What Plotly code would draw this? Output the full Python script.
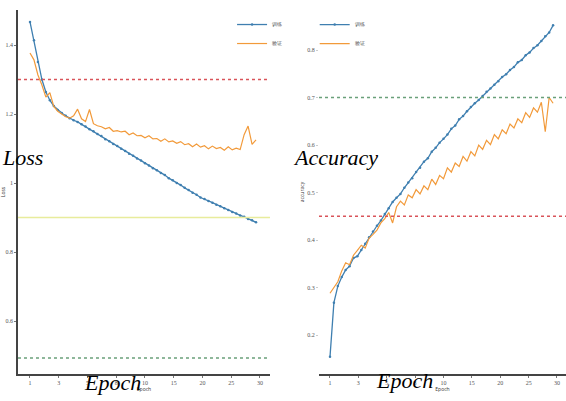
import plotly.graph_objects as go
from plotly.subplots import make_subplots

epochs = [1.0, 1.5, 2.0, 2.5, 3.0, 3.5, 4.0, 4.5, 5.0, 5.5, 6.0, 6.5, 7.0, 7.5, 8.0, 8.5,
          9.0, 9.5, 10.0, 10.5, 11.0, 11.5, 12.0, 12.5, 13.0, 13.5, 14.0, 14.5, 15.0, 15.5,
          16.0, 16.5, 17.0, 17.5, 18.0, 18.5, 19.0, 19.5, 20.0, 20.5, 21.0, 21.5, 22.0, 22.5,
          23.0, 23.5, 24.0, 24.5, 25.0, 25.5, 26.0, 26.5, 27.0, 27.5, 28.0, 28.5, 29.0, 29.5]

train_loss = [1.467, 1.414, 1.351, 1.300, 1.264, 1.240, 1.223, 1.212, 1.203, 1.195, 1.188, 1.182, 1.177,
              1.170, 1.164, 1.156, 1.150, 1.142, 1.136, 1.127, 1.121, 1.113, 1.107, 1.099, 1.093,
              1.085, 1.079, 1.071, 1.065, 1.057, 1.051, 1.043, 1.037, 1.029, 1.023, 1.014, 1.008,
              1.000, 0.994, 0.986, 0.980, 0.972, 0.966, 0.958, 0.954, 0.948, 0.943, 0.937, 0.933,
              0.927, 0.922, 0.916, 0.912, 0.906, 0.902, 0.896, 0.892, 0.886]
val_loss = [1.377, 1.357, 1.313, 1.284, 1.249, 1.262, 1.222, 1.208, 1.200, 1.192, 1.188, 1.195, 1.214,
            1.186, 1.178, 1.213, 1.172, 1.166, 1.163, 1.157, 1.161, 1.150, 1.152, 1.148, 1.150,
            1.140, 1.145, 1.137, 1.138, 1.131, 1.137, 1.128, 1.129, 1.121, 1.128, 1.119, 1.122,
            1.115, 1.120, 1.111, 1.114, 1.105, 1.113, 1.104, 1.108, 1.099, 1.107, 1.100, 1.103,
            1.095, 1.105, 1.096, 1.101, 1.097, 1.140, 1.165, 1.112, 1.125]

train_acc = [0.154, 0.268, 0.303, 0.322, 0.337, 0.345, 0.362, 0.366, 0.379, 0.392, 0.406, 0.418,
             0.430, 0.441, 0.455, 0.467, 0.480, 0.489, 0.497, 0.510, 0.521, 0.530, 0.543, 0.552,
             0.565, 0.572, 0.586, 0.594, 0.605, 0.613, 0.622, 0.634, 0.641, 0.654, 0.661, 0.671,
             0.680, 0.688, 0.695, 0.703, 0.712, 0.719, 0.727, 0.734, 0.743, 0.749, 0.758, 0.764,
             0.774, 0.779, 0.789, 0.795, 0.804, 0.810, 0.819, 0.829, 0.837, 0.852]
val_acc = [0.288, 0.300, 0.312, 0.335, 0.352, 0.348, 0.368, 0.378, 0.389, 0.383, 0.404, 0.412,
           0.421, 0.436, 0.445, 0.458, 0.436, 0.470, 0.482, 0.474, 0.495, 0.489, 0.506, 0.497,
           0.514, 0.506, 0.528, 0.517, 0.536, 0.529, 0.552, 0.543, 0.562, 0.555, 0.576, 0.566,
           0.586, 0.577, 0.600, 0.591, 0.610, 0.601, 0.622, 0.613, 0.632, 0.624, 0.644, 0.636,
           0.655, 0.647, 0.668, 0.658, 0.678, 0.669, 0.690, 0.628, 0.700, 0.688]

series_names = ["训练", "验证"]
x_tick_pos = [1, 4.625, 8.25, 11.875, 15.5, 19.125, 22.75, 26.375, 30]
x_tick_text = ["1", "3", "5", "8", "10", "15", "20", "25", "30"]
loss_ticks = [0.6, 0.8, 1.0, 1.2, 1.4]
acc_ticks = [0.2, 0.3, 0.4, 0.5, 0.6, 0.7, 0.8]
loss_refs = [(1.30, "#d9545a", "dot"), (0.90, "#e8ec9c", "solid"), (0.493, "#6aa07a", "dot")]
acc_refs = [(0.70, "#6aa07a", "dot"), (0.45, "#d9545a", "dot")]

BLUE = "#3f7fb0"
ORANGE = "#f29a3a"

fig = make_subplots(rows=1, cols=2)

fig.add_trace(go.Scatter(x=epochs, y=train_loss, mode="lines+markers", name=series_names[0],
                         line=dict(color=BLUE, width=1.3), marker=dict(size=2.5, color=BLUE),
                         legend="legend"), row=1, col=1)
fig.add_trace(go.Scatter(x=epochs, y=val_loss, mode="lines", name=series_names[1],
                         line=dict(color=ORANGE, width=1.2), legend="legend"), row=1, col=1)
fig.add_trace(go.Scatter(x=epochs, y=train_acc, mode="lines+markers", name=series_names[0],
                         line=dict(color=BLUE, width=1.3), marker=dict(size=2.5, color=BLUE),
                         legend="legend2"), row=1, col=2)
fig.add_trace(go.Scatter(x=epochs, y=val_acc, mode="lines", name=series_names[1],
                         line=dict(color=ORANGE, width=1.2), legend="legend2"), row=1, col=2)

for val, col, dash in loss_refs:
    fig.add_hline(y=val, line=dict(color=col, width=1.6, dash=dash), row=1, col=1)
for val, col, dash in acc_refs:
    fig.add_hline(y=val, line=dict(color=col, width=1.6, dash=dash), row=1, col=2)

tickfont = dict(size=6, color="#555", family="Liberation Serif")
common_x = dict(showline=True, linecolor="#444", linewidth=1.5, showgrid=False, zeroline=False,
                ticks="outside", ticklen=2, tickcolor="#777", tickvals=x_tick_pos,
                ticktext=x_tick_text, tickfont=tickfont,
                title=dict(text="Epoch", font=dict(size=5, color="#333"), standoff=2))
fig.update_layout(
    xaxis=dict(domain=[0.0318, 0.477], range=[-0.513, 31.26], **common_x),
    xaxis2=dict(domain=[0.5636, 1.0], range=[-0.405, 31.15], **common_x),
    yaxis=dict(domain=[0.0673, 0.975], range=[0.4464, 1.5014], showline=True, linecolor="#444",
               linewidth=1.5, showgrid=False, zeroline=False, ticks="outside", ticklen=2,
               tickcolor="#777", tickvals=loss_ticks, tickfont=tickfont,
               title=dict(text="Loss", font=dict(size=5, color="#333"), standoff=2)),
    yaxis2=dict(domain=[0.0673, 0.975], range=[0.1179, 0.8842], showline=False, showgrid=False,
                zeroline=False, ticks="outside", ticklen=2, tickcolor="#ccc",
                tickvals=acc_ticks, tickfont=tickfont,
                title=dict(text="accuracy", font=dict(size=5, color="#333"), standoff=2)),
    width=566, height=401, margin=dict(l=0, r=0, t=0, b=0),
    paper_bgcolor="white", plot_bgcolor="white",
    legend=dict(x=0.41, y=0.975, xanchor="left", yanchor="top", font=dict(size=5, color="#444"),
                bgcolor="rgba(255,255,255,0)", itemwidth=30, tracegroupgap=0),
    legend2=dict(x=0.556, y=0.975, xanchor="left", yanchor="top", font=dict(size=5, color="#444"),
                 bgcolor="rgba(255,255,255,0)", itemwidth=30, tracegroupgap=0),
)

big = dict(family="Liberation Serif", size=22, color="black", style="italic")
annots = [("Loss", 0.039, 0.608), ("Accuracy", 0.592, 0.608), ("Epoch", 0.198, 0.047),
          ("Epoch", 0.7155, 0.052)]
for txt, ax, ay in annots:
    fig.add_annotation(text=txt, x=ax, y=ay, xref="paper", yref="paper", showarrow=False,
                       font=big, xanchor="center", yanchor="middle")

fig.write_html("out.html")
